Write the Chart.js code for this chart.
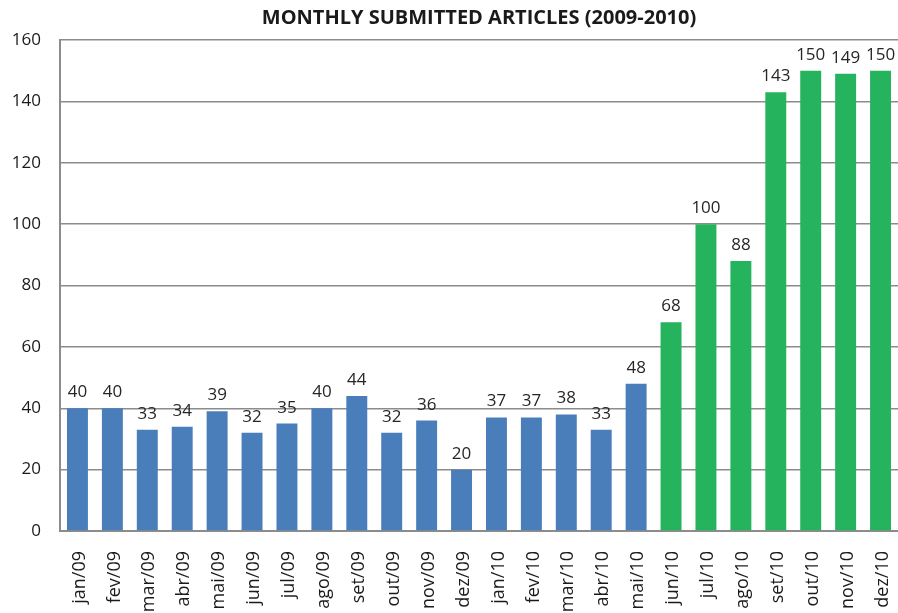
<!DOCTYPE html>
<html>
<head>
<meta charset="utf-8">
<script src="https://cdn.jsdelivr.net/npm/chart.js@4/dist/chart.umd.min.js"></script>
<style>
  html,body{margin:0;padding:0;background:#fff;}
  #wrap{width:898px;height:613px;position:relative;}
</style>
</head>
<body>
<div id="wrap"><canvas id="c"></canvas></div>
<script>
// monthly submitted articles, 2009-2010
const months = ['jan/09','fev/09','mar/09','abr/09','mai/09','jun/09','jul/09','ago/09','set/09','out/09','nov/09','dez/09',
  'jan/10','fev/10','mar/10','abr/10','mai/10','jun/10','jul/10','ago/10','set/10','out/10','nov/10','dez/10'];
const articles = [40,40,33,34,39,32,35,40,44,32,36,20,37,37,38,33,48,68,100,88,143,150,149,150];
const yTicks = [0,20,40,60,80,100,120,140,160];
const titleText = 'MONTHLY SUBMITTED ARTICLES (2009-2010)';

const BLUE = '#4a7ebb', GREEN = '#26b35e';
const barColors = months.map((m,i)=> i < 17 ? BLUE : GREEN);
const FONT = "'Open Sans', 'Liberation Sans', sans-serif";

// value above each bar + title centred over the plot
const valueLabels = {
  id:'valueLabels',
  afterDatasetsDraw(chart){
    const ctx = chart.ctx;
    const meta = chart.getDatasetMeta(0);
    ctx.save();
    ctx.font = '17px ' + FONT;
    ctx.fillStyle = '#262626';
    ctx.textAlign = 'center';
    ctx.textBaseline = 'alphabetic';
    meta.data.forEach((bar,i)=>{ ctx.fillText(String(articles[i]), bar.x, bar.y - 11); });
    const a = chart.chartArea;
    ctx.font = 'bold 20px ' + FONT;
    ctx.fillStyle = '#1a1a1a';
    ctx.textBaseline = 'middle';
    ctx.fillText(titleText, (a.left + a.right)/2, 18);
    ctx.restore();
  }
};

new Chart(document.getElementById('c'), {
  type:'bar',
  data:{ labels:months, datasets:[{ data:articles, backgroundColor:barColors, borderWidth:0,
    barPercentage:0.6, categoryPercentage:1 }]},
  options:{
    responsive:true, maintainAspectRatio:false, animation:false,
    layout:{ padding:{ top:40, right:0, left:0, bottom:0 } },
    plugins:{ legend:{display:false}, tooltip:{enabled:false}, title:{display:false} },
    scales:{
      x:{
        grid:{ display:false, drawTicks:false },
        border:{ color:'#8c8c8c', width:2 },
        ticks:{ color:'#1a1a1a', font:{ family:FONT, size:18 }, minRotation:90, maxRotation:90,
          padding:20, labelOffset:2, autoSkip:false },
        afterFit(axis){ axis.height = 82; axis.paddingLeft = 0; axis.paddingRight = 0; }
      },
      y:{
        min:0, max:160,
        afterBuildTicks(axis){ axis.ticks = yTicks.map(v=>({value:v})); },
        grid:{ color:'#8c8c8c', lineWidth:1.5, drawTicks:false },
        border:{ color:'#8c8c8c', width:2 },
        ticks:{ color:'#1a1a1a', font:{ family:FONT, size:17 }, padding:19 },
        afterFit(axis){ axis.width = 60; }
      }
    }
  },
  plugins:[valueLabels]
});
</script>
</body>
</html>
